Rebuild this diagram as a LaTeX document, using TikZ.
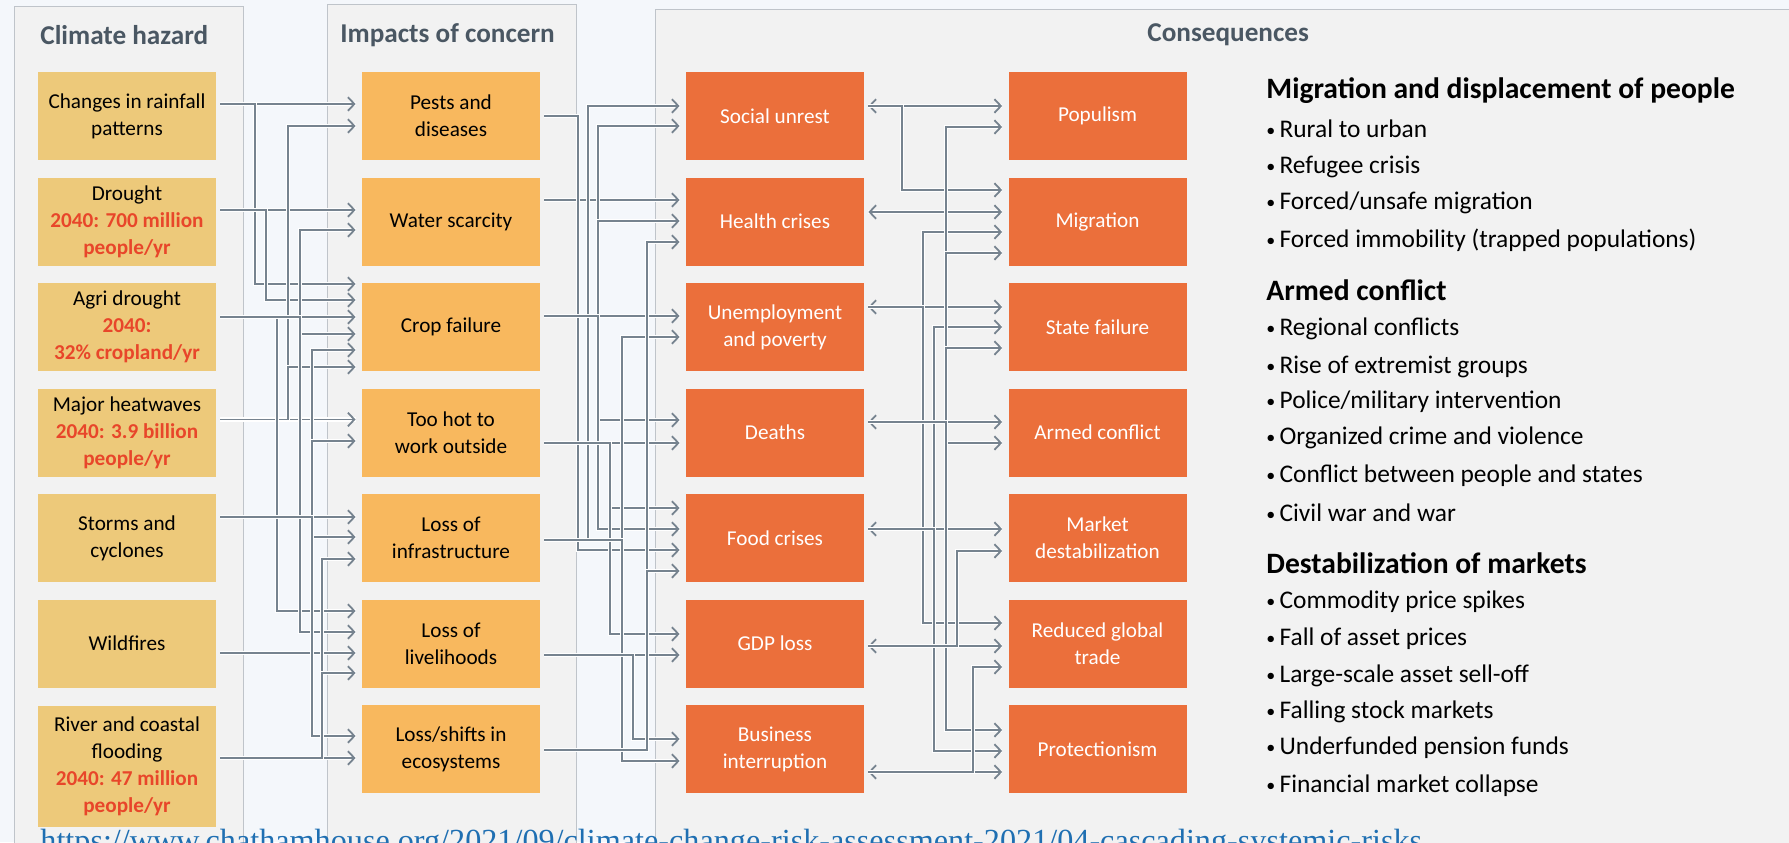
\documentclass[tikz,border=0pt]{standalone}
\usepackage{fontspec}
\setmainfont{Carlito}
\newfontfamily\linkfont{Liberation Serif}
\usetikzlibrary{arrows.meta}
\definecolor{pagebg}{HTML}{F4F7FB}
\definecolor{panelbg}{HTML}{F2F2F2}
\definecolor{panelline}{HTML}{BFC4CA}
\definecolor{hazardfill}{HTML}{EDC97A}
\definecolor{impactfill}{HTML}{F8B85E}
\definecolor{conseqfill}{HTML}{EB6F3B}
\definecolor{figred}{HTML}{E8462A}
\definecolor{titlegray}{HTML}{4A5763}
\definecolor{linkgray}{HTML}{76838F}
\definecolor{urlblue}{HTML}{1F6FB2}
\newcommand{\fig}[1]{\textcolor{figred}{\bfseries #1}}
\newcommand{\bul}{{\fontsize{9}{9}\selectfont\raisebox{0.12ex}{•}}\,}

\begin{document}
\begin{tikzpicture}[x=0.5pt, y=-0.5pt,
    box/.style={minimum width=89pt, minimum height=44pt, inner sep=0pt, align=center,
        font=\fontsize{10.6}{13.5}\selectfont},
    hazard/.style={box, fill=hazardfill, text=black},
    impact/.style={box, fill=impactfill, text=black},
    conseq/.style={box, fill=conseqfill, text=white},
    panel/.style={fill=panelbg, draw=panelline, line width=0.5pt},
    paneltitle/.style={anchor=west, inner sep=0pt, text=titlegray, font=\fontsize{13.6}{16}\selectfont\bfseries},
    link/.style={draw=linkgray, line width=0.9pt, preaction={draw=white, line width=2.4pt, -},
        shorten <=2pt, shorten >=3pt, -{Straight Barb[length=3.2pt,width=6.8pt]}},
    twoway/.style={link, {Straight Barb[length=3.2pt,width=6.8pt]}-{Straight Barb[length=3.2pt,width=6.8pt]},
        shorten <=2pt},
    heading/.style={anchor=west, inner sep=0pt, font=\fontsize{14.8}{17}\selectfont\bfseries},
    item/.style={anchor=west, inner sep=0pt, font=\fontsize{12.7}{15}\selectfont}]
    \useasboundingbox (0, 0) rectangle (1789, 842);
    \clip (0, 0) rectangle (1789, 842);
    \fill[pagebg] (0, 0) rectangle (1789, 842);
    % three panels
    \draw[panel] (14, 6) rectangle (243, 860);
    \draw[panel] (327, 4) rectangle (576, 860);
    \draw[panel] (655, 9) rectangle (1800, 860);
    \node[paneltitle] (t1) at(40, 35) {Climate hazard};
    \node[paneltitle] (t2) at(340, 35) {Impacts of concern};
    \node[paneltitle] (t3) at(1147, 35) {Consequences};

    % climate hazards
    \node[hazard] (rain) at(127, 116) {Changes in rainfall\\patterns};
    \node[hazard] (drought) at(127, 221.5) {Drought\\\fig{2040: 700 million}\\\fig{people/yr}};
    \node[hazard] (agri) at(127, 327) {Agri drought\\\fig{2040:}\\\fig{32\% cropland/yr}};
    \node[hazard] (heat) at(127, 432.5) {Major heatwaves\\\fig{2040: 3.9 billion}\\\fig{people/yr}};
    \node[hazard] (storm) at(127, 538) {Storms and\\cyclones};
    \node[hazard] (fire) at(127, 643.5) {Wildfires};
    \node[hazard, minimum height=60.5pt] (flood) at(127, 766.5) {River and coastal\\flooding\\\fig{2040: 47 million}\\\fig{people/yr}};

    % impacts of concern
    \node[impact] (pests) at(451, 116) {Pests and\\diseases};
    \node[impact] (water) at(451, 221.5) {Water scarcity};
    \node[impact] (crop) at(451, 327) {Crop failure};
    \node[impact] (hot) at(451, 432.5) {Too hot to\\work outside};
    \node[impact] (infra) at(451, 538) {Loss of\\infrastructure};
    \node[impact] (live) at(451, 643.5) {Loss of\\livelihoods};
    \node[impact] (eco) at(451, 749) {Loss/shifts in\\ecosystems};

    % consequences, first column
    \node[conseq] (unrest) at(775, 116) {Social unrest};
    \node[conseq] (health) at(775, 221.5) {Health crises};
    \node[conseq] (jobs) at(775, 327) {Unemployment\\and poverty};
    \node[conseq] (deaths) at(775, 432.5) {Deaths};
    \node[conseq] (food) at(775, 538) {Food crises};
    \node[conseq] (gdp) at(775, 643.5) {GDP loss};
    \node[conseq] (biz) at(775, 749) {Business\\interruption};

    % consequences, second column
    \node[conseq] (populism) at(1097.5, 116) {Populism};
    \node[conseq] (migration) at(1097.5, 221.5) {Migration};
    \node[conseq] (state) at(1097.5, 327) {State failure};
    \node[conseq] (conflict) at(1097.5, 432.5) {Armed conflict};
    \node[conseq] (market) at(1097.5, 538) {Market\\destabilization};
    \node[conseq] (trade) at(1097.5, 643.5) {Reduced global\\trade};
    \node[conseq] (protect) at(1097.5, 749) {Protectionism};

    % hazards -> impacts
    \draw[link] (rain.east |- 0,104) -- (pests.west |- 0,104);
    \draw[link] (drought.east |- 0,210) -- (water.west |- 0,210);
    \draw[link] (agri.east |- 0,317) -- (crop.west |- 0,317);
    \draw[link] (heat.east |- 0,419.5) -- (hot.west |- 0,419.5);
    \draw[link] (storm.east |- 0,517) -- (infra.west |- 0,517);
    \draw[link] (fire.east |- 0,653) -- (live.west |- 0,653);
    \draw[link] (flood.east |- 0,758) -- (eco.west |- 0,758);
    \draw[link] (rain.east |- 0,104) -| (255, 284) -- (crop.west |- 0,284);
    \draw[link] (drought.east |- 0,210) -| (266, 300) -- (crop.west |- 0,300);
    \draw[link] (heat.east |- 0,419.5) -| (288, 126) -- (pests.west |- 0,126);
    \draw[link] (heat.east |- 0,419.5) -| (288, 367) -- (crop.west |- 0,367);
    \draw[link] (agri.east |- 0,317) -| (277, 611) -- (live.west |- 0,611);
    \draw[link] (agri.east |- 0,317) -| (300, 230) -- (water.west |- 0,230);
    \draw[link] (agri.east |- 0,317) -| (300, 334) -- (crop.west |- 0,334);
    \draw[link] (agri.east |- 0,317) -| (300, 632) -- (live.west |- 0,632);
    \draw[link] (storm.east |- 0,517) -| (312, 350) -- (crop.west |- 0,350);
    \draw[link] (storm.east |- 0,517) -| (312, 441) -- (hot.west |- 0,441);
    \draw[link] (storm.east |- 0,517) -| (312, 537) -- (infra.west |- 0,537);
    \draw[link] (storm.east |- 0,517) -| (312, 736) -- (eco.west |- 0,736);
    \draw[link] (flood.east |- 0,758) -| (322, 559) -- (infra.west |- 0,559);
    \draw[link] (flood.east |- 0,758) -| (322, 673) -- (live.west |- 0,673);

    % impacts -> first consequences
    \draw[link] (water.east |- 0,200) -- (health.west |- 0,200);
    \draw[link] (crop.east |- 0,316) -- (jobs.west |- 0,316);
    \draw[link] (hot.east |- 0,443) -- (deaths.west |- 0,443);
    \draw[link] (live.east |- 0,655) -- (gdp.west |- 0,655);
    \draw[link] (pests.east |- 0,116) -| (578, 550) -- (food.west |- 0,550);
    \draw[link] (infra.east |- 0,540) -| (588, 106) -- (unrest.west |- 0,106);
    \draw[link] (crop.east |- 0,316) -| (598, 126) -- (unrest.west |- 0,126);
    \draw[link] (crop.east |- 0,316) -| (598, 221) -- (health.west |- 0,221);
    \draw[link] (crop.east |- 0,316) -| (598, 420) -- (deaths.west |- 0,420);
    \draw[link] (crop.east |- 0,316) -| (598, 529) -- (food.west |- 0,529);
    \draw[link] (hot.east |- 0,443) -| (610, 508) -- (food.west |- 0,508);
    \draw[link] (hot.east |- 0,443) -| (610, 634) -- (gdp.west |- 0,634);
    \draw[link] (infra.east |- 0,540) -| (622, 337) -- (jobs.west |- 0,337);
    \draw[link] (infra.east |- 0,540) -| (622, 761) -- (biz.west |- 0,761);
    \draw[link] (live.east |- 0,655) -| (633, 739) -- (biz.west |- 0,739);
    \draw[link] (eco.east |- 0,750) -| (647, 242) -- (health.west |- 0,242);
    \draw[link] (eco.east |- 0,750) -| (647, 571) -- (food.west |- 0,571);

    % first -> second consequences
    \draw[twoway] (unrest.east |- 0,106) -- (populism.west |- 0,106);
    \draw[twoway] (health.east |- 0,212) -- (migration.west |- 0,212);
    \draw[twoway] (jobs.east |- 0,307) -- (state.west |- 0,307);
    \draw[twoway] (deaths.east |- 0,422) -- (conflict.west |- 0,422);
    \draw[twoway] (food.east |- 0,529) -- (market.west |- 0,529);
    \draw[twoway] (gdp.east |- 0,646) -- (trade.west |- 0,646);
    \draw[twoway] (biz.east |- 0,772) -- (protect.west |- 0,772);
    \draw[link] (unrest.east |- 0,106) -| (902, 190) -- (migration.west |- 0,190);
    \draw[link] (jobs.east |- 0,307) -| (923, 232) -- (migration.west |- 0,232);
    \draw[link] (jobs.east |- 0,307) -| (923, 623) -- (trade.west |- 0,623);
    \draw[link] (food.east |- 0,529) -| (934, 327) -- (state.west |- 0,327);
    \draw[link] (food.east |- 0,529) -| (934, 751) -- (protect.west |- 0,751);
    \draw[link] (deaths.east |- 0,422) -| (946, 127) -- (populism.west |- 0,127);
    \draw[link] (deaths.east |- 0,422) -| (946, 253) -- (migration.west |- 0,253);
    \draw[link] (deaths.east |- 0,422) -| (946, 348) -- (state.west |- 0,348);
    \draw[link] (deaths.east |- 0,422) -| (946, 443) -- (conflict.west |- 0,443);
    \draw[link] (deaths.east |- 0,422) -| (946, 730) -- (protect.west |- 0,730);
    \draw[link] (gdp.east |- 0,646) -| (957, 551) -- (market.west |- 0,551);
    \draw[link] (biz.east |- 0,772) -| (973, 667) -- (trade.west |- 0,667);

    % list of consequences
    \node[heading] (h1) at(1266, 91) {Migration and displacement of people};
    \node[item] (m1) at(1266, 129) {\bul Rural to urban};
    \node[item] (m2) at(1266, 167) {\bul Refugee crisis};
    \node[item] (m3) at(1266, 203) {\bul Forced/unsafe migration};
    \node[item] (m4) at(1266, 240) {\bul Forced immobility (trapped populations)};
    \node[heading] (h2) at(1266, 290) {Armed conflict};
    \node[item] (a1) at(1266, 329) {\bul Regional conflicts};
    \node[item] (a2) at(1266, 367) {\bul Rise of extremist groups};
    \node[item] (a3) at(1266, 402) {\bul Police/military intervention};
    \node[item] (a4) at(1266, 438) {\bul Organized crime and violence};
    \node[item] (a5) at(1266, 476) {\bul Conflict between people and states};
    \node[item] (a6) at(1266, 513) {\bul Civil war and war};
    \node[heading] (h3) at(1266, 563) {Destabilization of markets};
    \node[item] (d1) at(1266, 602) {\bul Commodity price spikes};
    \node[item] (d2) at(1266, 639) {\bul Fall of asset prices};
    \node[item] (d3) at(1266, 676) {\bul Large-scale asset sell-off};
    \node[item] (d4) at(1266, 712) {\bul Falling stock markets};
    \node[item] (d5) at(1266, 748) {\bul Underfunded pension funds};
    \node[item] (d6) at(1266, 786) {\bul Financial market collapse};

    \node[anchor=base west, inner sep=0pt, text=urlblue, font=\linkfont\fontsize{16.1}{18}\selectfont] (url) at(40, 851) {https://www.chathamhouse.org/2021/09/climate-change-risk-assessment-2021/04-cascading-systemic-risks};
\end{tikzpicture}
\end{document}
